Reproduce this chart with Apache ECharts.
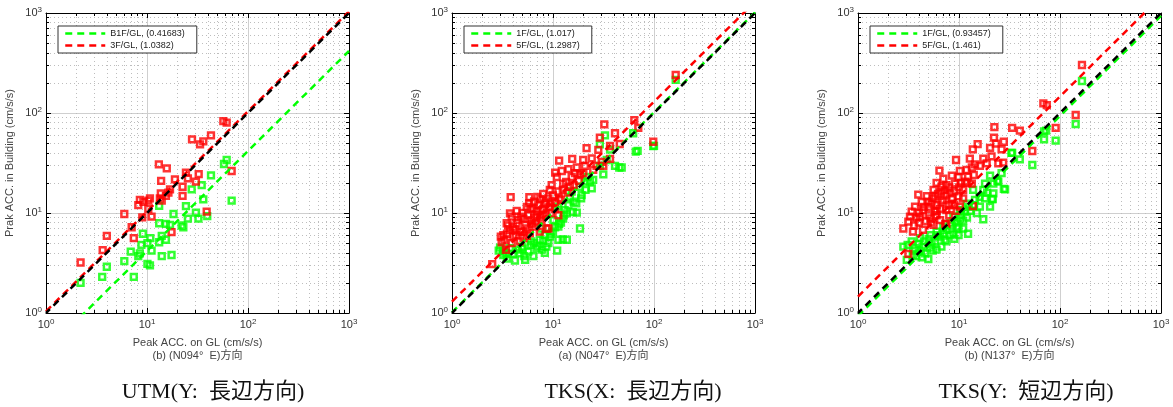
<!DOCTYPE html>
<html>
<head>
<meta charset="utf-8">
<script src="https://cdn.jsdelivr.net/npm/echarts@6/dist/echarts.min.js"></script>
<style>
  html, body { margin: 0; padding: 0; background: #fff; }
  #chart { width: 1173px; height: 407px; }
</style>
</head>
<body>
<div id="chart"></div>
<script>
// ---- data: [peak acc on GL, peak acc in building] (cm/s/s) ----
var utmB1F = [[61.5,33.9],[57.8,30.9],[43,23.8],[34.8,19],[27.7,17.2],[36.1,13.7],[24.3,11.7],[68.9,13.3],[18.3,9.77],[30.5,10.1],[32.3,8.8],[25.4,8.8],[39.5,9.3],[22,7.5],[22.9,7.2],[13.2,7.9],[15.4,7.8],[16.9,7.6],[13.2,11.8],[9.1,6.2],[10.8,5.6],[14,5.9],[15.4,5.4],[8.8,4.8],[10.1,5.0],[13.2,5.1],[11.1,4.2],[6.9,4.1],[8.2,3.7],[8.5,3.95],[14,3.7],[17.5,3.8],[5.96,3.3],[10.1,3.1],[10.7,3.0],[4.0,2.9],[3.6,2.3],[7.4,2.3],[2.2,2.0]];
var utm3F = [[57,83],[61.5,80],[27.9,54.6],[36.1,52],[43,59.8],[33.5,48.6],[13.1,30.7],[15.7,28],[24.3,25.3],[25.4,22.2],[32.5,24.5],[30.5,20.6],[18.9,21.7],[13.8,21],[22.5,18.3],[16.9,17.2],[16.3,16],[15.4,14.8],[22.5,14.8],[13.4,14],[14,13.3],[10.7,14],[10.3,13.3],[9.2,12.9],[8.5,13.5],[8.2,12],[10.3,11],[13.7,15.7],[5.96,9.77],[8.98,9.06],[11.1,9.2],[7.05,7.2],[7.4,5.6],[4.0,5.9],[3.64,4.25],[2.2,3.2],[17.5,6.45],[68.9,26.3],[39,10.3]];

var tksX1F = [[164,214],[62.2,62.7],[68.9,41.9],[98.4,46.8],[32.7,59.7],[36.7,43.1],[29.1,48.6],[47.9,28.5],[41.1,29.6],[31.5,24.3],[29.1,29.6],[34,33.9],[25,21.4],[24.2,17.6],[19.2,15.1],[17.2,10.1],[20.7,20.6],[18.5,18.3],[15.3,16.4],[14.2,12],[13.7,9.9],[12.6,8.8],[11.5,7.8],[18.5,7.0],[11.3,7.3],[13.7,5.4],[11.3,5.4],[9.3,5.8],[8.3,6.0],[9.0,5.0],[8.6,4.6],[11.0,4.2],[8.3,4.0],[6.4,3.7],[5.3,3.4],[4.2,3.35],[3.5,3.5],[3.22,3.8],[2.99,4.5],[4.7,3.95],[5.7,4.1],[6.9,4.45],[6.1,5.2],[7.4,5.4],[4.9,4.6],[3.75,4.45],[11.3,11.6],[12.8,9.5],[14.7,14.4],[10.1,8.5],[7.7,7.0],[15.7,10.2],[12.5,5.45],[66,41],[45.3,28.5],[23.2,20.6],[100,47],[22,23],[16,13],[10,6.5],[6,4.8],[3.2,4.2],[2.9,4.2],
  [4,3.9],[4.5,4.3],[5,4.4],[6.5,5],[7.2,4.7],[8,5.3],[9.5,6.2],[10.5,7.2],[12,8],[13,10.7],[17,12.5],[19,14],[21,17],[3.4,4],[5.2,3.7],[7.8,4.3]];
var tksX5F = [[164,240],[63.8,85],[69.9,71],[98.4,51.6],[32.2,77],[41.1,62.7],[29.1,56.6],[45.8,49],[36.7,46.8],[21.5,44.5],[28.1,42.7],[36.7,34.7],[11.5,33.4],[15.5,34.7],[19.9,33.9],[24.2,35.1],[30.4,32.5],[31.5,29.6],[27,29.6],[20.7,29.6],[17.2,28.5],[14.2,27.5],[12.2,26.3],[10.5,25.3],[18.5,24.3],[15.3,22.9],[10.9,22.9],[9.7,19],[12.6,19.7],[14.7,18.3],[9.3,17],[11.3,16.4],[3.81,14.4],[5.83,14.4],[3.75,9.9],[4.37,10.5],[9.0,14],[8.3,12.4],[7.15,12],[6.4,11.1],[7.7,10.7],[9.3,11.6],[8.6,9.9],[6.9,9.5],[5.7,9.5],[5.1,8.8],[6.1,8.5],[7.7,8.5],[11.3,9.5],[4.37,7.9],[5.3,7.6],[6.6,7.3],[9.0,7.0],[3.75,6.8],[4.7,6.5],[5.9,6.3],[7.4,6.5],[3.22,6.0],[4.05,5.8],[5.1,5.6],[3.04,5.8],[3.1,5.1],[3.9,5.0],[4.7,5.2],[3.42,4.27],[2.5,3.08],[3.48,7.9],[3.9,9.2],[8.6,7.0],[13.5,20.5],[16.5,25],[12,13.5],[10,15],[8,15.5],[6.5,13],[7.5,13.8],[5.5,11.5],[4.8,9.2],[6.2,7.8],[4.2,6.8],[5.5,5.9],[10.5,12.8],[20,25],[25,27],
  [4.5,8.5],[5,10],[5.5,7],[6,11],[6.5,9],[7,10.5],[7.5,9],[8,11],[8.5,13],[9.5,12.5],[10.5,11],[4,7.2],[3.5,6.2],[5.8,12.5],[7,14.5],[11.5,14],[12.5,17],[14,16],[16,19],[18,21],[5,6.5],[6.8,8],[8,9.5],[9.5,10],[4.3,6],[3.3,5.4],[3.6,7.5]];

var tksY1F = [[165,209],[143,77.6],[90.6,53],[69.5,65.6],[69.5,54.6],[53.2,30.2],[40,34.4],[33.6,40],[28.6,17.2],[21.9,19.7],[17.4,8.66],[12.3,6.2],[9.9,6.0],[21.6,13.8],[18.1,14],[17.4,17],[21.9,15.7],[24.5,20.6],[26.4,25],[20.3,23.7],[18.1,19.7],[13.8,17],[14.4,13.5],[11.9,12.4],[10.2,10.7],[8.8,9.2],[8.2,7.9],[9.9,7.3],[7.0,7.3],[6.0,6.5],[5.2,6.0],[6.5,5.8],[8.2,6.0],[4.1,5.6],[3.4,5.2],[2.81,4.6],[3.67,4.45],[4.4,4.6],[5.35,5.0],[4.6,3.95],[4.97,3.45],[4.27,3.6],[3.5,3.8],[3.04,3.4],[6.7,4.6],[10.2,8.85],[16.1,11.6],[20.3,11.6],[8.8,6.2],[27.8,17.4],[33,40],[73,66.5],[21.2,13.8],[12,9],[15,10],[7.5,5.2],[5.5,4.2],[9,5.5],[11,7],[13,10.5],[24,21],[3.1,4.8],
  [3.5,4.2],[4,4.9],[4.5,5.2],[5,5.5],[5.8,5.2],[6.2,6],[7,6.2],[7.5,6.8],[8.5,7.5],[9.2,8.2],[10.5,9.5],[11.5,10.5],[12.5,11.5],[14,12],[16,14.5],[19,16],[4.2,4.2],[3.8,3.7],[5.2,4.5],[6,4.3],[7.2,5.4],[9.5,7],[11,8.4]];
var tksY5F = [[165,302],[68.4,125],[74,120],[143,95.5],[90.6,71],[53.2,41.7],[22.4,72.3],[33.6,71],[40,66.5],[22.2,56.6],[23.2,49.5],[27.8,51.6],[26.4,43.2],[20.3,44.8],[15.3,48.9],[13.7,43.2],[12.8,35],[9.35,33.9],[6.4,26.5],[17.4,35],[18.8,31.4],[21,36.8],[24.5,31.4],[27.4,31.9],[16.1,29.6],[13.4,28.5],[14.4,30.7],[11.9,26.9],[10.2,26.3],[8.5,23.7],[9.9,22.9],[12.3,23.1],[13.4,19.7],[11.5,20.6],[9.1,19.7],[7.5,19],[6.7,18.3],[6.7,16.4],[5.6,17],[8.2,15.7],[9.9,14.7],[5.8,14.7],[4.8,14.7],[3.95,15.3],[4.27,12.9],[5.35,12.4],[6.7,12.9],[8.5,12.4],[10.2,11.6],[13.7,11.7],[3.67,11.6],[3.4,10.3],[4.4,10.7],[5.8,10.3],[7.5,10.7],[3.27,9.2],[4.1,9.2],[5.2,8.85],[6.5,8.5],[7.5,7.8],[2.81,7.0],[3.5,6.5],[4.4,6.8],[5.6,7.6],[3.15,3.9],[3.15,8.2],[7.3,7.8],[6,20],[7,22],[11,17],[8,18],[5,11.5],[4,8],[6,9.5],[9,16.5],[10.5,20],
  [4,10],[4.5,11.5],[5,13],[5.5,14],[6,12],[6.5,11],[7,13.5],[7.5,15],[8,12],[8.5,14],[9,12],[5,9.5],[4.7,8.3],[3.8,9],[3.6,7.5],[6.2,15.5],[7.2,17],[10,18],[12,20],[14,24],[11,14],[9.5,10.5],[6,10.5],[5.3,8],[8,9.5]];

// regression slopes (building / GL) shown in legends
var utmSlopes = [0.41683, 1.0382];
var tksXSlopes = [1.017, 1.2987];
var tksYSlopes = [0.93457, 1.461];

var legendNames = [
  ['B1F/GL, (0.41683)', '3F/GL, (1.0382)'],
  ['1F/GL, (1.017)', '5F/GL, (1.2987)'],
  ['1F/GL, (0.93457)', '5F/GL, (1.461)']
];
var xNames = [
  'Peak ACC. on GL (cm/s/s)\n(b) (N094°  E)方向',
  'Peak ACC. on GL (cm/s/s)\n(a) (N047°  E)方向',
  'Peak ACC. on GL (cm/s/s)\n(b) (N137°  E)方向'
];
var yName = 'Prak ACC. in Building (cm/s/s)';
var captions = ['UTM(Y:  長辺方向)', 'TKS(X:  長辺方向)', 'TKS(Y:  短辺方向)'];
var minorTicks = [2,3,4,5,6,7,8,9,20,30,40,50,60,70,80,90,200,300,400,500,600,700,800,900];

var panels = [
  { left: 46, green: utmB1F, red: utm3F, slopes: utmSlopes, capX: 213 },
  { left: 452, green: tksX1F, red: tksX5F, slopes: tksXSlopes, capX: 633 },
  { left: 858, green: tksY1F, red: tksY5F, slopes: tksYSlopes, capX: 1026 }
];

var GREEN = '#00ff00';
var RED = '#ff0000';
var FONT = '"Liberation Sans", "Noto Sans CJK JP", sans-serif';

function fitLine(k) {
  return [[1, k], [1000, 1000 * k]];
}

function powLabel(v) {
  return '{b|10}{s|' + Math.round(Math.log10(v)) + '}';
}

var labelRich = {
  b: { fontSize: 11, color: '#333', fontFamily: FONT, lineHeight: 14 },
  s: { fontSize: 8, color: '#333', fontFamily: FONT, lineHeight: 8, verticalAlign: 'top', padding: [0, 0, 6, 0] }
};

// 4 axes per side per grid: main, opposite, minor main, minor opposite
function makeAxes(dim, g) {
  var pos = dim === 'x' ? ['bottom', 'top'] : ['left', 'right'];
  var base = { gridIndex: g, type: 'log', logBase: 10, min: 1, max: 1000, silent: true };
  var main = Object.assign({}, base, {
    position: pos[0],
    axisLine: { show: true, lineStyle: { color: '#000', width: 1 } },
    axisTick: { show: true, inside: true, length: 5, lineStyle: { color: '#000' } },
    axisLabel: { show: true, formatter: powLabel, rich: labelRich, margin: dim === 'x' ? 5 : 4, showMinLabel: true, showMaxLabel: true },
    splitLine: { show: true, lineStyle: { color: '#cfcfcf', width: 1 } },
    name: dim === 'x' ? xNames[g] : yName,
    nameLocation: 'middle',
    nameGap: dim === 'x' ? 20 : 30,
    nameTextStyle: { color: '#444', fontSize: 11, fontFamily: FONT, lineHeight: 13 }
  });
  var opp = Object.assign({}, base, {
    position: pos[1],
    axisLine: { show: true, lineStyle: { color: '#000', width: 1 } },
    axisTick: { show: true, inside: true, length: 5, lineStyle: { color: '#000' } },
    axisLabel: { show: false },
    splitLine: { show: false }
  });
  var minorMain = Object.assign({}, base, {
    position: pos[0],
    axisLine: { show: false },
    axisTick: { show: true, inside: true, length: 3, customValues: minorTicks, lineStyle: { color: '#000' } },
    axisLabel: { show: false },
    splitLine: { show: true, lineStyle: { color: '#bdbdbd', width: 1, type: [1, 3] } }
  });
  var minorOpp = Object.assign({}, base, {
    position: pos[1],
    axisLine: { show: false },
    axisTick: { show: true, inside: true, length: 3, customValues: minorTicks, lineStyle: { color: '#000' } },
    axisLabel: { show: false },
    splitLine: { show: false }
  });
  return [main, opp, minorMain, minorOpp];
}

var grids = [], xAxes = [], yAxes = [], series = [], legends = [], graphics = [];

panels.forEach(function (p, g) {
  grids.push({ left: p.left, top: 13, width: 303, height: 300 });
  xAxes = xAxes.concat(makeAxes('x', g));
  yAxes = yAxes.concat(makeAxes('y', g));
  var ax = { xAxisIndex: g * 4, yAxisIndex: g * 4 };

  var markerStyle = function (c) {
    return { color: 'rgba(255,255,255,0)', borderColor: c, borderWidth: 2.5 };
  };
  series.push(Object.assign({ type: 'scatter', symbol: 'rect', symbolSize: 5.8, data: p.green, itemStyle: markerStyle(GREEN), z: 3 }, ax));
  series.push(Object.assign({ type: 'scatter', symbol: 'rect', symbolSize: 5.8, data: p.red, itemStyle: markerStyle(RED), z: 4 }, ax));

  var lineBase = { type: 'line', symbol: 'none', clip: true, silent: true, z: 6 };
  series.push(Object.assign({}, lineBase, ax, {
    name: legendNames[g][0], data: fitLine(p.slopes[0]),
    itemStyle: { color: GREEN },
    lineStyle: { color: GREEN, width: 2.5, type: [7, 5] }
  }));
  series.push(Object.assign({}, lineBase, ax, {
    name: legendNames[g][1], data: fitLine(p.slopes[1]),
    itemStyle: { color: RED },
    lineStyle: { color: RED, width: 2.5, type: [7, 5] }
  }));
  // 1:1 reference line
  series.push(Object.assign({}, lineBase, ax, {
    data: fitLine(1), z: 7,
    itemStyle: { color: '#000' },
    lineStyle: { color: '#000', width: 2.5, type: [7, 5], dashOffset: 1.5 }
  }));

  legends.push({
    data: legendNames[g],
    left: p.left + 12, top: 26,
    orient: 'vertical',
    itemWidth: 40, itemHeight: 8, itemGap: 3,
    padding: [3, 12, 3, 6],
    backgroundColor: '#fff', borderColor: '#333', borderWidth: 1, borderRadius: 0,
    selectedMode: false,
    itemStyle: { opacity: 0 },
    lineStyle: { width: 2.5 },
    textStyle: { fontSize: 9, color: '#222', fontFamily: FONT }
  });

  graphics.push({
    type: 'text', x: p.capX, y: 392,
    style: {
      text: captions[g], fill: '#111',
      font: '22px "Liberation Serif", "Noto Sans CJK JP", serif',
      textAlign: 'center', textVerticalAlign: 'middle'
    }
  });
});

var chart = echarts.init(document.getElementById('chart'), null, { renderer: 'canvas' });
chart.setOption({
  animation: false,
  backgroundColor: '#fff',
  grid: grids,
  xAxis: xAxes,
  yAxis: yAxes,
  legend: legends,
  series: series,
  graphic: graphics
});
</script>
</body>
</html>
